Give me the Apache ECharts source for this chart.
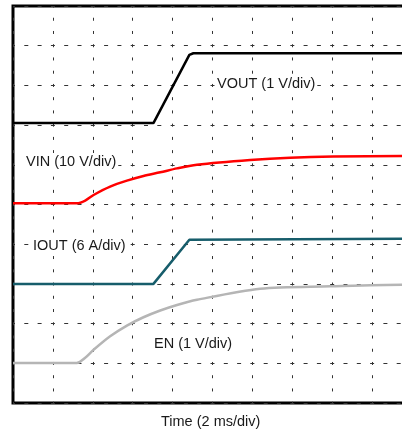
<!DOCTYPE html>
<html>
<head>
<meta charset="utf-8">
<script src="https://cdn.jsdelivr.net/npm/echarts@6/dist/echarts.min.js"></script>
<style>
html,body{margin:0;padding:0;background:#fff;}
#c{width:402px;height:429px;}
</style>
</head>
<body>
<div id="c"></div>
<script>
// Time in ms (2 ms/div), signal levels in screen divisions from the bottom
var voutTime = [0, 7.04, 8.84, 9.04, 20];
var voutDiv  = [7.05, 7.05, 8.77, 8.81, 8.81];

var ioutTime = [0, 7.04, 8.84, 8.94, 20];
var ioutDiv  = [3.00, 3.00, 4.11, 4.14, 4.14];

var vinTime = [0, 3.20, 3.62, 4.04, 4.87, 5.71, 6.54, 7.38, 8.22, 9.22, 11.89, 13.89, 16.05, 19.5, 20];
var vinDiv  = [5.03, 5.03, 5.10, 5.24, 5.45, 5.60, 5.72, 5.81, 5.91, 6.00, 6.12, 6.18, 6.21, 6.22, 6.22];

var enTime = [0, 3.20, 3.62, 4.04, 4.87, 5.71, 6.54, 7.38, 8.22, 9.22, 12.39, 15.9, 19.5, 20];
var enDiv  = [1.01, 1.01, 1.14, 1.34, 1.68, 1.95, 2.16, 2.33, 2.47, 2.60, 2.88, 2.94, 2.98, 2.98];

var labels = ['VOUT (1 V/div)', 'VIN (10 V/div)', 'IOUT (6 A/div)', 'EN (1 V/div)'];
var xTitle = 'Time (2 ms/div)';

function pairs(t, v) { return t.map(function (x, i) { return [x, v[i]]; }); }

var chart = echarts.init(document.getElementById('c'), null, {renderer: 'canvas'});
var font = '14.5px "Liberation Sans", Arial, sans-serif';
function lbl(s, l, t) {
  return {type: 'text', left: l, top: t, z: 50,
    style: {text: s, fill: '#1a1a1a', font: font, backgroundColor: '#fff', padding: [1, 2, 1, 2]}};
}

chart.setOption({
  animation: false,
  grid: {left: 13, top: 6, width: 399, height: 397, outerBoundsMode: 'none', containLabel: false,
         show: true, borderColor: '#000', borderWidth: 3, backgroundColor: 'transparent'},
  xAxis: {
    type: 'value', min: 0, max: 20, interval: 2,
    axisLine: {show: false}, axisTick: {show: false}, axisLabel: {show: false},
    splitLine: {show: true, lineStyle: {color: '#333', width: 1, type: [3, 10.24], dashOffset: 1.5}}
  },
  yAxis: {
    type: 'value', min: 0, max: 10, interval: 1,
    axisLine: {show: false}, axisTick: {show: false}, axisLabel: {show: false},
    splitLine: {show: true, lineStyle: {color: '#333', width: 1, type: [4, 9.3], dashOffset: 2}}
  },
  series: [
    {type: 'line', data: pairs(enTime, enDiv), showSymbol: false, smooth: 0.3, lineStyle: {color: '#b5b5b5', width: 2.5}, z: 3},
    {type: 'line', data: pairs(ioutTime, ioutDiv), showSymbol: false, lineStyle: {color: '#175d6b', width: 2.5}, z: 3},
    {type: 'line', data: pairs(vinTime, vinDiv), showSymbol: false, smooth: 0.3, lineStyle: {color: '#ff0000', width: 2.5}, z: 3},
    {type: 'line', data: pairs(voutTime, voutDiv), showSymbol: false, lineStyle: {color: '#000000', width: 2.5}, z: 3}
  ],
  graphic: [
    lbl(labels[0], 215, 75),
    lbl(labels[1], 24, 153),
    lbl(labels[2], 31, 237),
    lbl(labels[3], 152, 335),
    {type: 'text', left: 161, top: 414, style: {text: xTitle, fill: '#1a1a1a', font: font}}
  ]
});
</script>
</body>
</html>
